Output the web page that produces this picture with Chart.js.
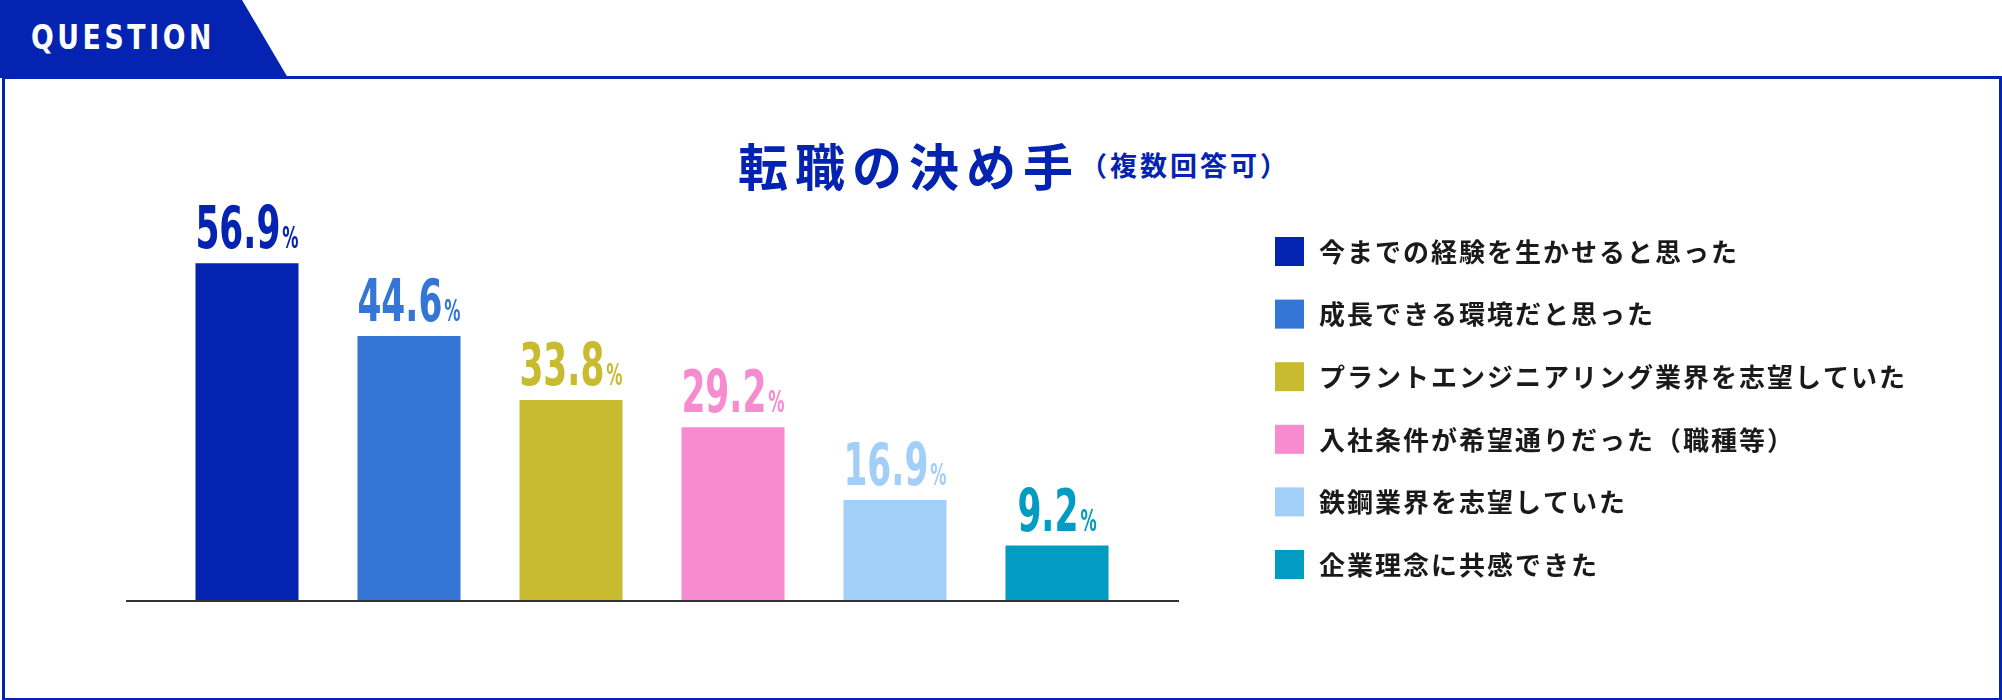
<!DOCTYPE html>
<html><head><meta charset="utf-8">
<script src="https://cdn.jsdelivr.net/npm/chart.js@4/dist/chart.umd.min.js"></script>
<style>
body{margin:0;width:2002px;height:700px;background:#fff;position:relative;overflow:hidden;font-family:"Noto Sans CJK JP",sans-serif}
#frame{position:absolute;left:2px;top:76px;width:1994px;height:619px;border:3px solid #0323b0}
#tab{position:absolute;left:0;top:0;width:288px;height:78px;background:#0323b0;clip-path:polygon(0 0,242px 0,288px 78px,0 78px)}
#tabt{position:absolute;left:31px;top:18px;color:#fff;font:bold 33px "DejaVu Sans Condensed","Noto Sans",sans-serif;letter-spacing:4px;transform:scaleX(0.9);transform-origin:left}
#title{position:absolute;left:738px;top:128px;color:#0323b0;font-weight:bold;font-size:50px;letter-spacing:7px;white-space:nowrap}
#title span{font-size:27px;letter-spacing:3px;vertical-align:10px}
canvas{position:absolute;left:0;top:0}
</style></head><body>
<div id="frame"></div>
<div id="tab"></div><div id="tabt">QUESTION</div>
<div id="title">転職の決め手<span>（複数回答可）</span></div>
<canvas id="c" width="2002" height="700"></canvas>
<script>
const categories=["今までの経験を生かせると思った","成長できる環境だと思った","プラントエンジニアリング業界を志望していた","入社条件が希望通りだった（職種等）","鉄鋼業界を志望していた","企業理念に共感できた"];
const values=[56.9,44.6,33.8,29.2,16.9,9.2];
const colors=["#0323b0","#3575d5","#c9bb30","#f78bd0","#a2cff7","#029cc3"];

const deco={id:'deco',afterDatasetsDraw(ch){
  const ctx=ch.ctx,ys=ch.scales.y,meta=ch.getDatasetMeta(0);
  const y0=ys.getPixelForValue(0);
  ctx.save();
  ctx.strokeStyle='#333';ctx.lineWidth=2;
  ctx.beginPath();ctx.moveTo(126,y0+1);ctx.lineTo(1179,y0+1);ctx.stroke();
  const F1='bold 58px "DejaVu Sans Condensed",sans-serif', F2='bold 30px "DejaVu Sans Condensed",sans-serif';
  const k1=0.66,k2=0.6;
  meta.data.forEach((b,i)=>{
    const num=values[i].toFixed(1);
    ctx.fillStyle=colors[i];ctx.textBaseline='alphabetic';
    ctx.font=F1;const w1=ctx.measureText(num).width*k1;
    ctx.font=F2;const w2=ctx.measureText('%').width*k2;
    const sx=b.x-(w1+w2+2)/2, by=b.y-15;
    ctx.save();ctx.scale(k1,1);ctx.font=F1;ctx.fillText(num,sx/k1,by);ctx.restore();
    ctx.save();ctx.scale(k2,1);ctx.font=F2;ctx.fillText('%',(sx+w1+2)/k2,by);ctx.restore();
  });
  ctx.letterSpacing='2px';
  categories.forEach((c,i)=>{
    const y=237+i*62.6;
    ctx.fillStyle=colors[i];ctx.fillRect(1275,y,29,29);
    ctx.fillStyle='#1a1a1a';ctx.font='bold 26px "Noto Sans CJK JP",sans-serif';
    ctx.textBaseline='middle';ctx.fillText(c,1319,y+15);
  });
  ctx.restore();
}};

new Chart(document.getElementById('c'),{
  type:'bar',
  data:{labels:categories,datasets:[{data:values,backgroundColor:colors,barPercentage:0.636,categoryPercentage:1}]},
  options:{responsive:false,animation:false,
    layout:{padding:{left:166,right:864,top:200,bottom:100}},
    plugins:{legend:{display:false},tooltip:{enabled:false}},
    scales:{x:{display:false},y:{display:false,min:0,max:67.6}}
  },
  plugins:[deco]
});
</script></body></html>
